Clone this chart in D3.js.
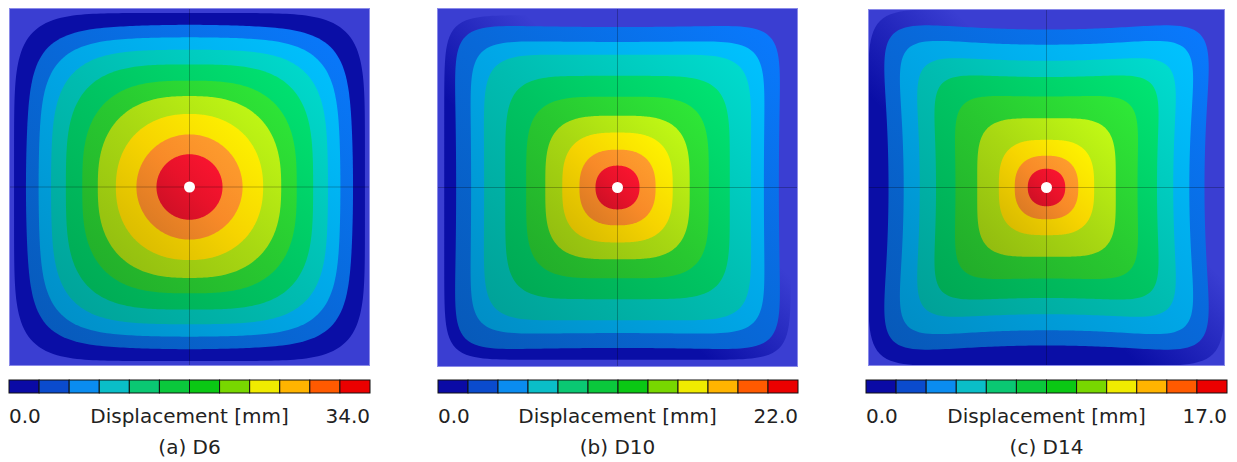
<!DOCTYPE html>
<html>
<head>
<meta charset="utf-8">
<script src="https://d3js.org/d3.v7.min.js"></script>
<style>
  body { margin: 0; background: #fff; }
  svg { display: block; font-family: 'DejaVu Sans', Verdana, sans-serif; }
</style>
</head>
<body>
<div id="chart"></div>
<script>
const captions = ["(a) D6", "(b) D10", "(c) D14"];
const minLabels = ["0.0", "0.0", "0.0"];
const maxLabels = ["34.0", "22.0", "17.0"];
const legendTitle = "Displacement [mm]";

// 12 step legend palette
const legendColors = ["#0a0aa5", "#0a4bcd", "#0a8cf0", "#0abec8", "#0ac873", "#0ac83c",
                      "#0ac814", "#78d700", "#f0eb00", "#ffb400", "#ff5a00", "#eb0000"];

// band colours as seen on the plates, outermost first
const fieldColors = ["#3a3ed2", "#0868d8", "#00a6e6", "#00bcb0", "#00c462", "#28c830",
                     "#a8d812", "#f6d400", "#f88a28", "#e8122a"];

// contour half size (fraction of half plate), bands 1..9
const levelsA = [0.906, 0.836, 0.767, 0.685, 0.594, 0.508, 0.408, 0.294, 0.183];
const levelsB = [0.894, 0.811, 0.739, 0.622, 0.506, 0.400, 0.306, 0.211, 0.122];
const levelsC = [0.885, 0.800, 0.710, 0.619, 0.510, 0.388, 0.267, 0.178, 0.105];

// squareness of each contour (superellipse exponent)
const shapeA = [6.5, 5.5, 4.6, 3.8, 3.1, 2.6, 2.2, 2.0, 2.0];
const shapeB = [9, 8, 7, 5.5, 4.3, 3.5, 2.9, 2.5, 2.2];
const shapeC = [8, 8, 7.5, 7, 6, 4.2, 3, 2.5, 2.2];

// side curvature: > 0 concave sides, < 0 bulging sides
const pinchA = [-0.05, -0.045, -0.04, -0.03, -0.02, -0.01, 0, 0, 0];
const pinchB = [0.02, 0.015, 0.01, 0, 0, 0, 0, 0, 0];
const pinchC = [0.07, 0.07, 0.06, 0.05, 0.03, 0.01, 0, 0, 0];

// dark rim of the lowest band
const rimLevels = [0.972, 0.96, 1.0];
const rimShape = [6, 10, 10];

const w = 1237, h = 462;

const panels = [
  {x: 9,   y: 8, w: 361, h: 358, lx: 9,   lw: 361, levels: levelsA, shape: shapeA, pinch: pinchA, rimTop: 1},
  {x: 437, y: 8, w: 361, h: 359, lx: 438, lw: 360, levels: levelsB, shape: shapeB, pinch: pinchB, rimTop: 0},
  {x: 868, y: 9, w: 357, h: 357, lx: 866, lw: 361, levels: levelsC, shape: shapeC, pinch: pinchC, rimTop: 0}
];

const svg = d3.select("#chart").append("svg")
    .attr("width", w)
    .attr("height", h);

const defs = svg.append("defs");

// superellipse outline, sides bent by k
function contour(d, n, k, xs, ys) {
  const pts = d3.range(0, 360, 1).map(a => {
    const t = a * Math.PI / 180;
    const c = Math.cos(t), s = Math.sin(t);
    const se = d / Math.pow(Math.pow(Math.abs(c), n) + Math.pow(Math.abs(s), n), 1 / n);
    const u = se * c, v = se * s;
    const x = u * (1 + k * (v / d) * (v / d));
    const y = v * (1 + k * (u / d) * (u / d));
    return [xs(x), ys(y)];
  });
  return d3.line().curve(d3.curveLinearClosed)(pts);
}

function shadeGradient(id, color) {
  const g = defs.append("linearGradient").attr("id", id)
      .attr("x1", 1).attr("y1", 0).attr("x2", 0).attr("y2", 1);
  g.append("stop").attr("offset", "0%").attr("stop-color", d3.color(color).brighter(0.45));
  g.append("stop").attr("offset", "50%").attr("stop-color", color);
  g.append("stop").attr("offset", "100%").attr("stop-color", d3.color(color).darker(0.45));
}

panels.forEach((p, pi) => {
  const xs = d3.scaleLinear().domain([-1, 1]).range([p.x, p.x + p.w]);
  const ys = d3.scaleLinear().domain([-1, 1]).range([p.y, p.y + p.h]);
  const g = svg.append("g");

  // plate, band 0
  g.append("rect")
      .attr("x", p.x).attr("y", p.y)
      .attr("width", p.w).attr("height", p.h)
      .attr("fill", fieldColors[0]);

  // darker rim of band 0 (shadow side)
  const rim = defs.append("linearGradient").attr("id", "rim" + pi)
      .attr("x1", 1).attr("y1", 0).attr("x2", 0).attr("y2", 1);
  rim.append("stop").attr("offset", "0%").attr("stop-color", "#0a0ea6").attr("stop-opacity", p.rimTop);
  rim.append("stop").attr("offset", "38%").attr("stop-color", "#0a0ea6").attr("stop-opacity", p.rimTop);
  rim.append("stop").attr("offset", "62%").attr("stop-color", "#0a0ea6").attr("stop-opacity", 1);
  rim.append("stop").attr("offset", "100%").attr("stop-color", "#0a0ea6").attr("stop-opacity", 1);
  g.append("path")
      .attr("d", contour(rimLevels[pi], rimShape[pi], 0, xs, ys))
      .attr("fill", "url(#rim" + pi + ")");

  p.levels.forEach((lv, i) => {
    const id = "band" + pi + "_" + i;
    shadeGradient(id, fieldColors[i + 1]);
    g.append("path")
        .attr("d", contour(lv, p.shape[i], p.pinch[i], xs, ys))
        .attr("fill", "url(#" + id + ")");
  });

  // thin cross lines through the centre
  g.append("line")
      .attr("x1", xs(-1)).attr("x2", xs(1))
      .attr("y1", ys(0)).attr("y2", ys(0))
      .attr("stroke", "#000").attr("stroke-opacity", 0.25).attr("stroke-width", 1);
  g.append("line")
      .attr("x1", xs(0)).attr("x2", xs(0))
      .attr("y1", ys(-1)).attr("y2", ys(1))
      .attr("stroke", "#000").attr("stroke-opacity", 0.25).attr("stroke-width", 1);

  // load point
  g.append("circle")
      .attr("cx", xs(0)).attr("cy", ys(0)).attr("r", 5.5)
      .attr("fill", "#fff");

  // plate outline
  g.append("rect")
      .attr("x", p.x + 0.5).attr("y", p.y + 0.5)
      .attr("width", p.w - 1).attr("height", p.h - 1)
      .attr("fill", "none").attr("stroke", "#8a8ae8").attr("stroke-width", 1);

  // legend
  const lb = d3.scaleBand().domain(d3.range(legendColors.length))
      .range([p.lx, p.lx + p.lw]);
  g.selectAll(".lg").data(legendColors).enter().append("rect")
      .attr("x", (d, i) => lb(i))
      .attr("y", 380)
      .attr("width", lb.bandwidth())
      .attr("height", 13)
      .attr("fill", d => d)
      .attr("stroke", "#111")
      .attr("stroke-width", 1);

  g.append("text")
      .attr("x", p.lx).attr("y", 423)
      .attr("font-size", 20).attr("fill", "#222")
      .text(minLabels[pi]);
  g.append("text")
      .attr("x", p.lx + p.lw).attr("y", 423)
      .attr("text-anchor", "end")
      .attr("font-size", 20).attr("fill", "#222")
      .text(maxLabels[pi]);
  g.append("text")
      .attr("x", xs(0)).attr("y", 423)
      .attr("text-anchor", "middle")
      .attr("font-size", 20).attr("fill", "#222")
      .text(legendTitle);
  g.append("text")
      .attr("x", xs(0)).attr("y", 454)
      .attr("text-anchor", "middle")
      .attr("font-size", 20).attr("fill", "#222")
      .text(captions[pi]);
});
</script>
</body>
</html>
